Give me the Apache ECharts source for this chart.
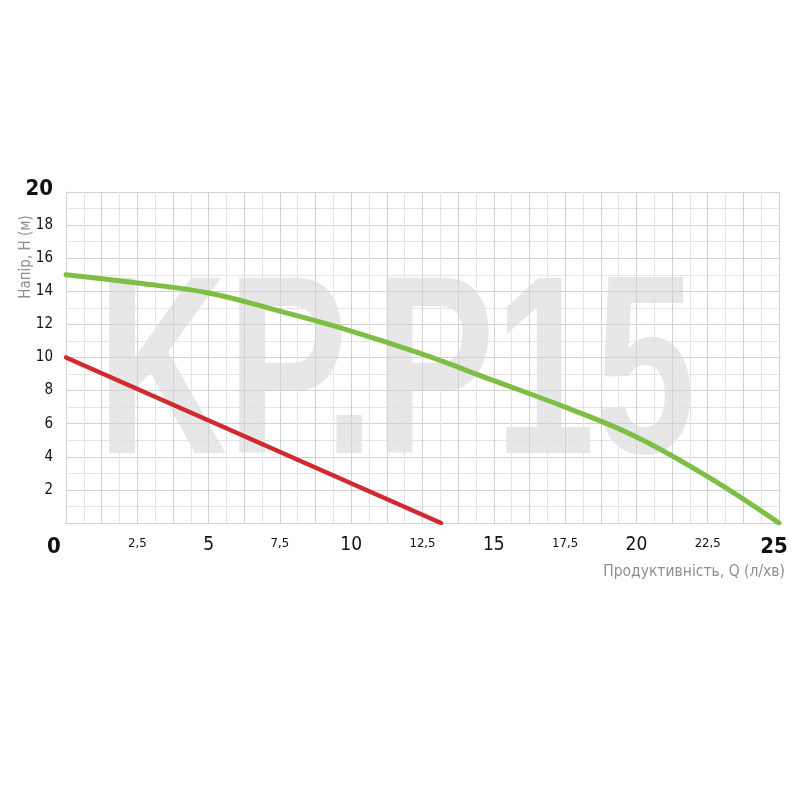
<!DOCTYPE html>
<html>
<head>
<meta charset="utf-8">
<script src="https://cdn.jsdelivr.net/npm/echarts@6/dist/echarts.min.js"></script>
<style>html,body{margin:0;padding:0;background:#fff}#c{width:800px;height:800px}</style>
</head>
<body>
<div id="c"></div>
<script>
// ---- data ----
const flowQ = [0, 2.5, 5, 7.5, 10, 12.5, 15, 17.5, 20, 22.5, 25];
const headGreen = [15, 14.5, 13.9, 12.8, 11.6, 10.2, 8.6, 7.0, 5.2, 2.8, 0];
const redQ = [0, 13.15];
const redH = [10, 0];
const xTickValues = [0, 2.5, 5, 7.5, 10, 12.5, 15, 17.5, 20, 22.5, 25];
const xTickLabels = ['0', '2,5', '5', '7,5', '10', '12,5', '15', '17,5', '20', '22,5', '25'];
const yTickValues = [2, 4, 6, 8, 10, 12, 14, 16, 18, 20];
const yTickLabels = ['2', '4', '6', '8', '10', '12', '14', '16', '18', '20'];
const xAxisTitle = 'Продуктивність, Q (л/хв)';
const yAxisTitle = 'Напір, Н (м)';
const watermark = 'KP.P15';

const FONT = "'DejaVu Sans Condensed','Liberation Sans Narrow','Roboto',sans-serif";
const chart = echarts.init(document.getElementById('c'), null, {renderer: 'canvas'});

function xLabel(v) {
  const i = xTickValues.findIndex(t => Math.abs(t - v) < 1e-6);
  if (i < 0) return '';
  const t = xTickLabels[i];
  if (i === 0) return '{z|' + t + '}';
  if (i === xTickValues.length - 1) return '{b|' + t + '}';
  if (i % 2 === 0) return '{m|' + t + '}';
  return '{s|' + t + '}';
}
function yLabel(v) {
  const i = yTickValues.findIndex(t => Math.abs(t - v) < 1e-6);
  if (i < 0) return '';
  const t = yTickLabels[i];
  if (i === yTickValues.length - 1) return '{b|' + t + '}';
  return '{n|' + t + '}';
}

const gridMajor = '#d2d2d2';
const gridMinor = '#e4e4e4';

chart.setOption({
  animation: false,
  backgroundColor: '#ffffff',
  grid: {left: 66, right: 21, top: 192, bottom: 277, containLabel: false},
  graphic: [
    {
      type: 'text', z: -10, x: 97, y: 383, scaleX: 0.71, scaleY: 1,
      silent: true,
      style: {
        text: watermark, fill: 'rgba(0,0,0,0.095)',
        fontSize: 254, fontWeight: 'bold', fontFamily: "'Liberation Sans','Arial',sans-serif",
        textAlign: 'left', textVerticalAlign: 'middle'
      }
    },
    {
      type: 'text', x: 26, y: 257, rotation: Math.PI / 2,
      style: {
        text: yAxisTitle, fill: '#8f8f8f', fontSize: 15, fontFamily: FONT,
        textAlign: 'center', textVerticalAlign: 'middle'
      }
    }
  ],
  xAxis: {
    type: 'value', min: 0, max: 25, interval: 1.25,
    name: xAxisTitle, nameLocation: 'end', nameGap: 6,
    nameTextStyle: {color: '#8f8f8f', fontSize: 15.5, fontFamily: FONT, align: 'right', verticalAlign: 'top', padding: [41, 0, 0, 0]},
    axisLine: {show: true, lineStyle: {color: gridMajor, width: 1}},
    axisTick: {show: false},
    splitLine: {show: true, lineStyle: {color: gridMajor, width: 1}},
    minorTick: {show: false, splitNumber: 2},
    minorSplitLine: {show: true, lineStyle: {color: gridMinor, width: 1}},
    axisLabel: {
      margin: 13, formatter: xLabel, showMinLabel: true, showMaxLabel: true,
      rich: {
        z: {fontSize: 22, fontWeight: 'bold', color: '#111', fontFamily: FONT, padding: [0, 24, 0, 0]},
        b: {fontSize: 22, fontWeight: 'bold', color: '#111', fontFamily: FONT, padding: [0, 10, 0, 0]},
        m: {fontSize: 19, color: '#111', fontFamily: FONT},
        s: {fontSize: 13, color: '#111', fontFamily: FONT, padding: [1, 0, 0, 0]}
      }
    }
  },
  yAxis: {
    type: 'value', min: 0, max: 20, interval: 2,
    axisLine: {show: true, lineStyle: {color: gridMajor, width: 1}},
    axisTick: {show: false},
    splitLine: {show: true, lineStyle: {color: gridMajor, width: 1}},
    minorTick: {show: false, splitNumber: 2},
    minorSplitLine: {show: true, lineStyle: {color: gridMinor, width: 1}},
    axisLabel: {
      margin: 13, formatter: yLabel, showMinLabel: true, showMaxLabel: true,
      rich: {
        n: {fontSize: 15, color: '#111', fontFamily: FONT},
        b: {fontSize: 22, fontWeight: 'bold', color: '#111', fontFamily: FONT, padding: [0, 0, 6, 0]}
      }
    }
  },
  series: [
    {
      type: 'line', name: 'green', smooth: 0.4, symbol: 'none',
      data: flowQ.map((q, i) => [q, headGreen[i]]),
      lineStyle: {color: '#7dbf45', width: 5, cap: 'round'},
      z: 3
    },
    {
      type: 'line', name: 'red', symbol: 'none',
      data: redQ.map((q, i) => [q, redH[i]]),
      lineStyle: {color: '#cf2a2e', width: 4.5, cap: 'round'},
      z: 4
    }
  ]
});
</script>
</body>
</html>
